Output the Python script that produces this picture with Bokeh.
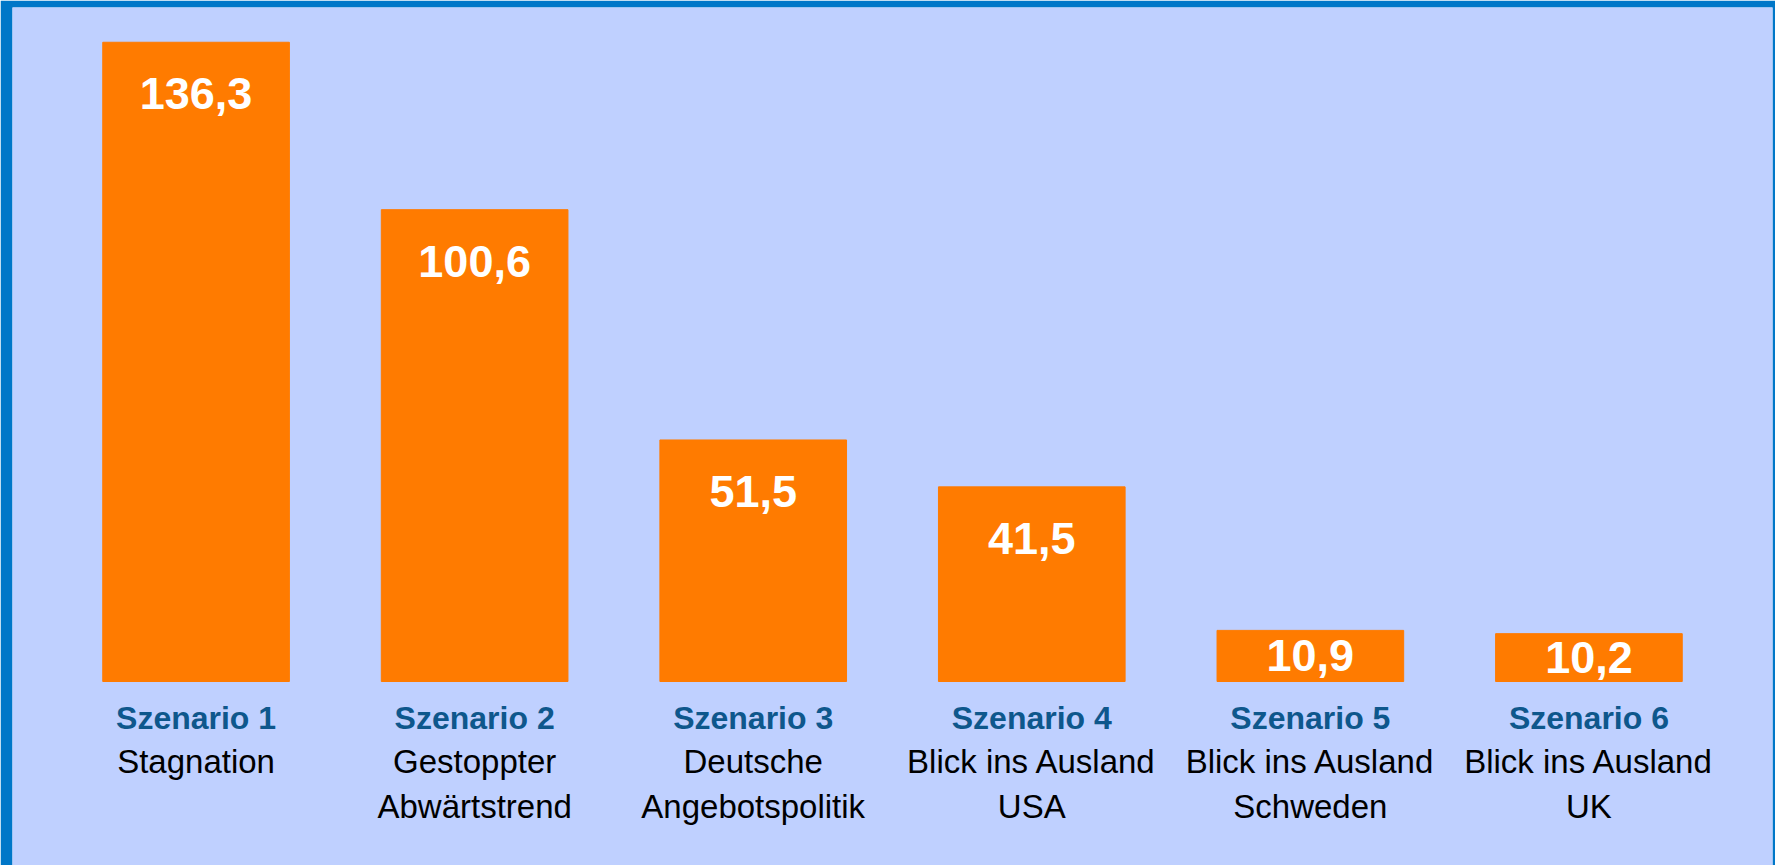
from bokeh.plotting import figure
from bokeh.models import FactorRange, Range1d, ColumnDataSource
from bokeh.core.properties import value
from bokeh.embed import file_html
from bokeh.resources import INLINE

# ---- data ----
scenarios = ["Szenario 1", "Szenario 2", "Szenario 3", "Szenario 4", "Szenario 5", "Szenario 6"]
desc_line1 = ["Stagnation", "Gestoppter", "Deutsche", "Blick ins Ausland", "Blick ins Ausland", "Blick ins Ausland"]
desc_line2 = ["", "Abwärtstrend", "Angebotspolitik", "USA", "Schweden", "UK"]
values = [136.3, 100.6, 51.5, 41.5, 10.9, 10.2]
value_labels = ["136,3", "100,6", "51,5", "41,5", "10,9", "10,2"]

# ---- style / layout ----
FONT = value("Liberation Sans")
PX = 4.69  # pixels per data unit
BG = "#BFD0FF"
BORDER = "#0077C8"
BAR = "#FF7B00"
DARKBLUE = "#0E578C"

# label centres: fixed distance below tall bar tops, centred in short bars
lab_y = [max(v - 51.5 / PX, v / 2) for v in values]

src = ColumnDataSource(dict(x=scenarios, top=values, lab=value_labels, lab_y=lab_y,
                            d1=desc_line1, d2=desc_line2))

p = figure(width=1775, height=865,
           x_range=FactorRange(factors=scenarios, range_padding=0.053),
           y_range=Range1d(-(865 - 681) / PX, (681 - 7) / PX),
           output_backend="svg", toolbar_location=None,
           x_axis_location=None, y_axis_location=None,
           min_border_left=12, min_border_right=3, min_border_top=7, min_border_bottom=0,
           border_fill_color=BORDER, background_fill_color=BG, outline_line_color=None)
p.grid.visible = False

p.vbar(x="x", top="top", bottom=0, width=0.67, color=BAR, source=src)

p.text(x="x", y="lab_y", text="lab", source=src, text_align="center", text_baseline="middle",
       text_color="white", text_font=FONT, text_font_style="bold", text_font_size="45px")

p.text(x="x", y=-36 / PX, text="x", source=src, text_align="center", text_baseline="middle",
       text_color=DARKBLUE, text_font=FONT, text_font_style="bold", text_font_size="32px")
p.text(x="x", y=-80 / PX, text="d1", source=src, text_align="center", text_baseline="middle",
       text_color="black", text_font=FONT, text_font_size="33px")
p.text(x="x", y=-125 / PX, text="d2", source=src, text_align="center", text_baseline="middle",
       text_color="black", text_font=FONT, text_font_size="33px")

open("out.html", "w").write(file_html(p, INLINE))
